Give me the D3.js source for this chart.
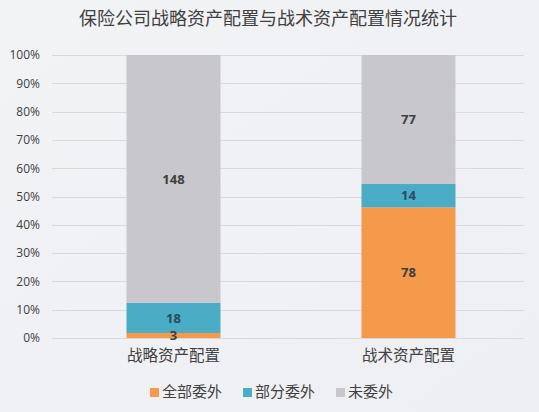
<!DOCTYPE html>
<html>
<head>
<meta charset="utf-8">
<script src="https://cdn.jsdelivr.net/npm/d3@7"></script>
<style>
  html, body { margin: 0; padding: 0; background: #f0f1f4; }
  svg { display: block; }
</style>
</head>
<body>
<svg id="chart" width="539" height="412"></svg>
<script>
// Categories and series
const categories = ["战略资产配置", "战术资产配置"];
const seriesNames = ["全部委外", "部分委外", "未委外"];
const fullyOutsourced = [3, 78];
const partlyOutsourced = [18, 14];
const notOutsourced = [148, 77];
const seriesColors = ["#f5994a", "#4bacc6", "#c8c8cc"];
const yTicks = [0, 0.1, 0.2, 0.3, 0.4, 0.5, 0.6, 0.7, 0.8, 0.9, 1.0];

const seriesValues = [fullyOutsourced, partlyOutsourced, notOutsourced];
const rows = categories.map((c, i) => {
  const row = { category: c };
  seriesNames.forEach((s, k) => row[s] = seriesValues[k][i]);
  return row;
});

const svg = d3.select("#chart");
const W = 539, H = 412;
const margin = { left: 52, right: 15, top: 55, bottom: 74 };

// subtle background wash
const defs = svg.append("defs");
const grad = defs.append("linearGradient").attr("id", "bg").attr("x1", 0).attr("y1", 0).attr("x2", 1).attr("y2", 1);
grad.append("stop").attr("offset", "0%").attr("stop-color", "#f2f3f5");
grad.append("stop").attr("offset", "100%").attr("stop-color", "#eeeff3");
svg.append("rect").attr("width", W).attr("height", H).attr("fill", "url(#bg)");

const x = d3.scaleBand().domain(categories).range([margin.left + 4, W - margin.right + 2]).paddingInner(0.6).paddingOuter(0.3);
const y = d3.scaleLinear().domain([0, 1]).range([H - margin.bottom, margin.top]);

// Title
svg.append("text")
  .attr("x", 268).attr("y", 25)
  .attr("text-anchor", "middle")
  .attr("font-family", "'Noto Sans CJK SC', sans-serif")
  .attr("font-size", 18)
  .attr("fill", "#404040")
  .text("保险公司战略资产配置与战术资产配置情况统计");

// Gridlines
svg.append("g").selectAll("line").data(yTicks).join("line")
  .attr("x1", margin.left).attr("x2", W - margin.right)
  .attr("y1", d => Math.round(y(d)) + 0.5).attr("y2", d => Math.round(y(d)) + 0.5)
  .attr("stroke", "#d9d9dc").attr("stroke-width", 1);

// Y axis labels
const yAxis = d3.axisLeft(y).tickValues(yTicks).tickFormat(d3.format(".0%")).tickSize(0).tickPadding(12);
const ya = svg.append("g").attr("transform", `translate(${margin.left},0)`).call(yAxis);
ya.select(".domain").remove();
ya.selectAll("text")
  .attr("font-family", "'Open Sans', 'Noto Sans', sans-serif")
  .attr("font-size", 12)
  .attr("fill", "#404040");

// Stacked, normalized bars
const stack = d3.stack().keys(seriesNames).offset(d3.stackOffsetExpand);
const stacked = stack(rows);

const layers = svg.append("g").selectAll("g").data(stacked).join("g")
  .attr("fill", (d, i) => seriesColors[i]);
layers.selectAll("rect").data(d => d).join("rect")
  .attr("x", d => x(d.data.category))
  .attr("width", x.bandwidth())
  .attr("y", d => y(d[1]))
  .attr("height", d => y(d[0]) - y(d[1]));

// Value labels
const labels = svg.append("g");
stacked.forEach((layer, k) => {
  layer.forEach(d => {
    labels.append("text")
      .attr("x", x(d.data.category) + x.bandwidth() / 2)
      .attr("y", (y(d[0]) + y(d[1])) / 2)
      .attr("dy", "0.36em")
      .attr("text-anchor", "middle")
      .attr("font-family", "'Open Sans', 'Noto Sans', sans-serif")
      .attr("font-weight", "bold")
      .attr("font-size", 13)
      .attr("fill", k === 1 ? "#2c4a60" : "#404040")
      .text(d.data[layer.key]);
  });
});

// Category labels
const xAxis = d3.axisBottom(x).tickSize(0).tickPadding(12);
const xa = svg.append("g").attr("transform", `translate(0,${H - margin.bottom})`).call(xAxis);
xa.select(".domain").remove();
xa.selectAll("text")
  .attr("font-family", "'Noto Sans CJK SC', sans-serif")
  .attr("font-size", 15.5)
  .attr("fill", "#404040");

// Legend
const legendX = [150, 243, 336];
const legend = svg.append("g");
seriesNames.forEach((s, i) => {
  const g = legend.append("g").attr("transform", `translate(${legendX[i]},392)`);
  g.append("rect").attr("x", 0).attr("y", -4).attr("width", 9).attr("height", 9).attr("fill", seriesColors[i]);
  g.append("text").attr("x", 12).attr("y", 0).attr("dy", "0.36em")
    .attr("font-family", "'Noto Sans CJK SC', sans-serif")
    .attr("font-size", 15)
    .attr("fill", "#404040")
    .text(s);
});
</script>
</body>
</html>
